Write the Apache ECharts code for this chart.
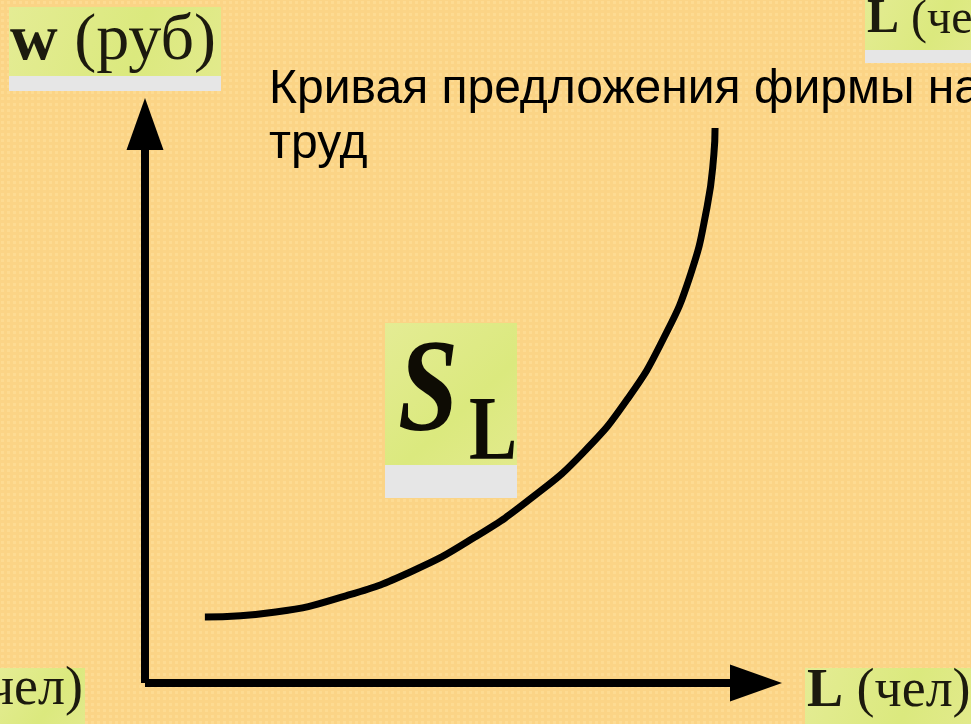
<!DOCTYPE html>
<html>
<head>
<meta charset="utf-8">
<script src="https://cdn.jsdelivr.net/npm/echarts@6/dist/echarts.min.js"></script>
<style>
  html, body { margin: 0; padding: 0; }
  #chart { width: 971px; height: 724px; }
</style>
</head>
<body>
<div id="chart"></div>
<script>
// кривая предложения труда (L, w) в условных единицах осей 0..100
const laborL = [9.8, 21.4, 32.9, 43.7, 54.0, 63.5, 71.8, 79.1, 84.8, 89.2, 92.0, 93.1, 93.3]
const wageW = [11.8, 12.7, 15.6, 20.0, 26.1, 33.3, 41.3, 51.0, 61.5, 72.8, 85.2, 94.5, 99.3]

const titleLines = ['Кривая предложения фирмы на', 'труд']
const yName = 'руб'
const xName = 'чел'

// фон в мелкую клетку, как на слайде
function makeTile() {
  const c = document.createElement('canvas')
  c.width = 6; c.height = 6
  const ctx = c.getContext('2d')
  ctx.fillStyle = '#fbd486'
  ctx.fillRect(0, 0, 6, 6)
  ctx.fillStyle = '#fddb92'
  ctx.fillRect(1, 1, 3, 3)
  return c.toDataURL()
}
const dom = document.getElementById('chart')
dom.style.background = 'url(' + makeTile() + ')'

const chart = echarts.init(dom)

const green = new echarts.graphic.LinearGradient(0, 0, 1, 1, [
  { offset: 0, color: '#e4ec94' },
  { offset: 0.6, color: '#dbe97e' },
  { offset: 1, color: '#e2ea8c' }
])

// подпись в жёлто-зелёной плашке с серой полоской снизу
function labelBox(x, y, w, h, band) {
  return [
    { type: 'rect', shape: { x: x, y: y, width: w, height: h }, style: { fill: green }, z: 5 },
    { type: 'rect', shape: { x: x, y: y + h, width: w, height: band }, style: { fill: '#e6e6e6' }, z: 5 }
  ]
}

const serif = '"Liberation Serif", "DejaVu Serif", serif'
const textColor = '#1c1a0e'

const graphics = [].concat(
  labelBox(9, 7, 212, 69, 15),
  labelBox(865, -10, 120, 60, 13),
  labelBox(0, 668, 85, 60, 0),
  labelBox(805, 668, 170, 60, 0),
  labelBox(385, 323, 132, 142, 33),
  [
    {
      type: 'text', z: 6,
      style: {
        text: '{b|w} (' + yName + ')',
        x: 10, y: 42, verticalAlign: 'middle',
        font: '66px ' + serif, fill: textColor,
        rich: { b: { fontWeight: 'bold', fontSize: 66, fontFamily: serif } }
      }
    },
    {
      type: 'text', z: 6,
      style: {
        text: '{b|L} (' + xName + ')',
        x: 867, y: 20, verticalAlign: 'middle',
        font: '48px ' + serif, fill: textColor,
        rich: { b: { fontWeight: 'bold', fontSize: 48, fontFamily: serif } }
      }
    },
    {
      type: 'text', z: 6,
      style: {
        text: xName + ')',
        x: 83, y: 690, align: 'right', verticalAlign: 'middle',
        font: '54px ' + serif, fill: textColor
      }
    },
    {
      type: 'text', z: 6,
      style: {
        text: '{b|L} (' + xName + ')',
        x: 807, y: 692, verticalAlign: 'middle',
        font: '54px ' + serif, fill: textColor,
        rich: { b: { fontWeight: 'bold', fontSize: 54, fontFamily: serif } }
      }
    },
    {
      type: 'text', z: 6, x: 398, y: 396, scaleX: 0.82,
      style: {
        text: 'S', x: 0, y: 0, verticalAlign: 'middle',
        font: 'italic bold 132px ' + serif, fill: '#0e0c04'
      }
    },
    {
      type: 'text', z: 6, x: 469, y: 436, scaleX: 0.8,
      style: {
        text: 'L', x: 0, y: 0, verticalAlign: 'middle',
        font: 'bold 90px ' + serif, fill: '#0e0c04'
      }
    },
    {
      type: 'text', z: 6,
      style: {
        text: titleLines[0], x: 269, y: 90, verticalAlign: 'middle',
        font: '48px "Liberation Sans", Arial, sans-serif', fill: '#000'
      }
    },
    {
      type: 'text', z: 6,
      style: {
        text: titleLines[1], x: 269, y: 145, verticalAlign: 'middle',
        font: '48px "Liberation Sans", Arial, sans-serif', fill: '#000'
      }
    }
  ]
)

const axisCommon = {
  type: 'value',
  min: 0,
  max: 100,
  axisTick: { show: false },
  axisLabel: { show: false },
  splitLine: { show: false },
  axisLine: {
    show: true,
    symbol: ['none', 'triangle'],
    symbolSize: [37, 52],
    lineStyle: { color: '#000', width: 8, cap: 'butt' }
  }
}

const option = {
  backgroundColor: 'transparent',
  animation: false,
  grid: { left: 145, right: 215, top: 124, bottom: 41 },
  xAxis: axisCommon,
  yAxis: axisCommon,
  series: [
    {
      type: 'line',
      smooth: 0.5,
      symbol: 'none',
      data: laborL.map((v, i) => [v, wageW[i]]),
      lineStyle: { color: '#000', width: 7 },
      z: 3
    }
  ],
  graphic: graphics
}

chart.setOption(option)
</script>
</body>
</html>
